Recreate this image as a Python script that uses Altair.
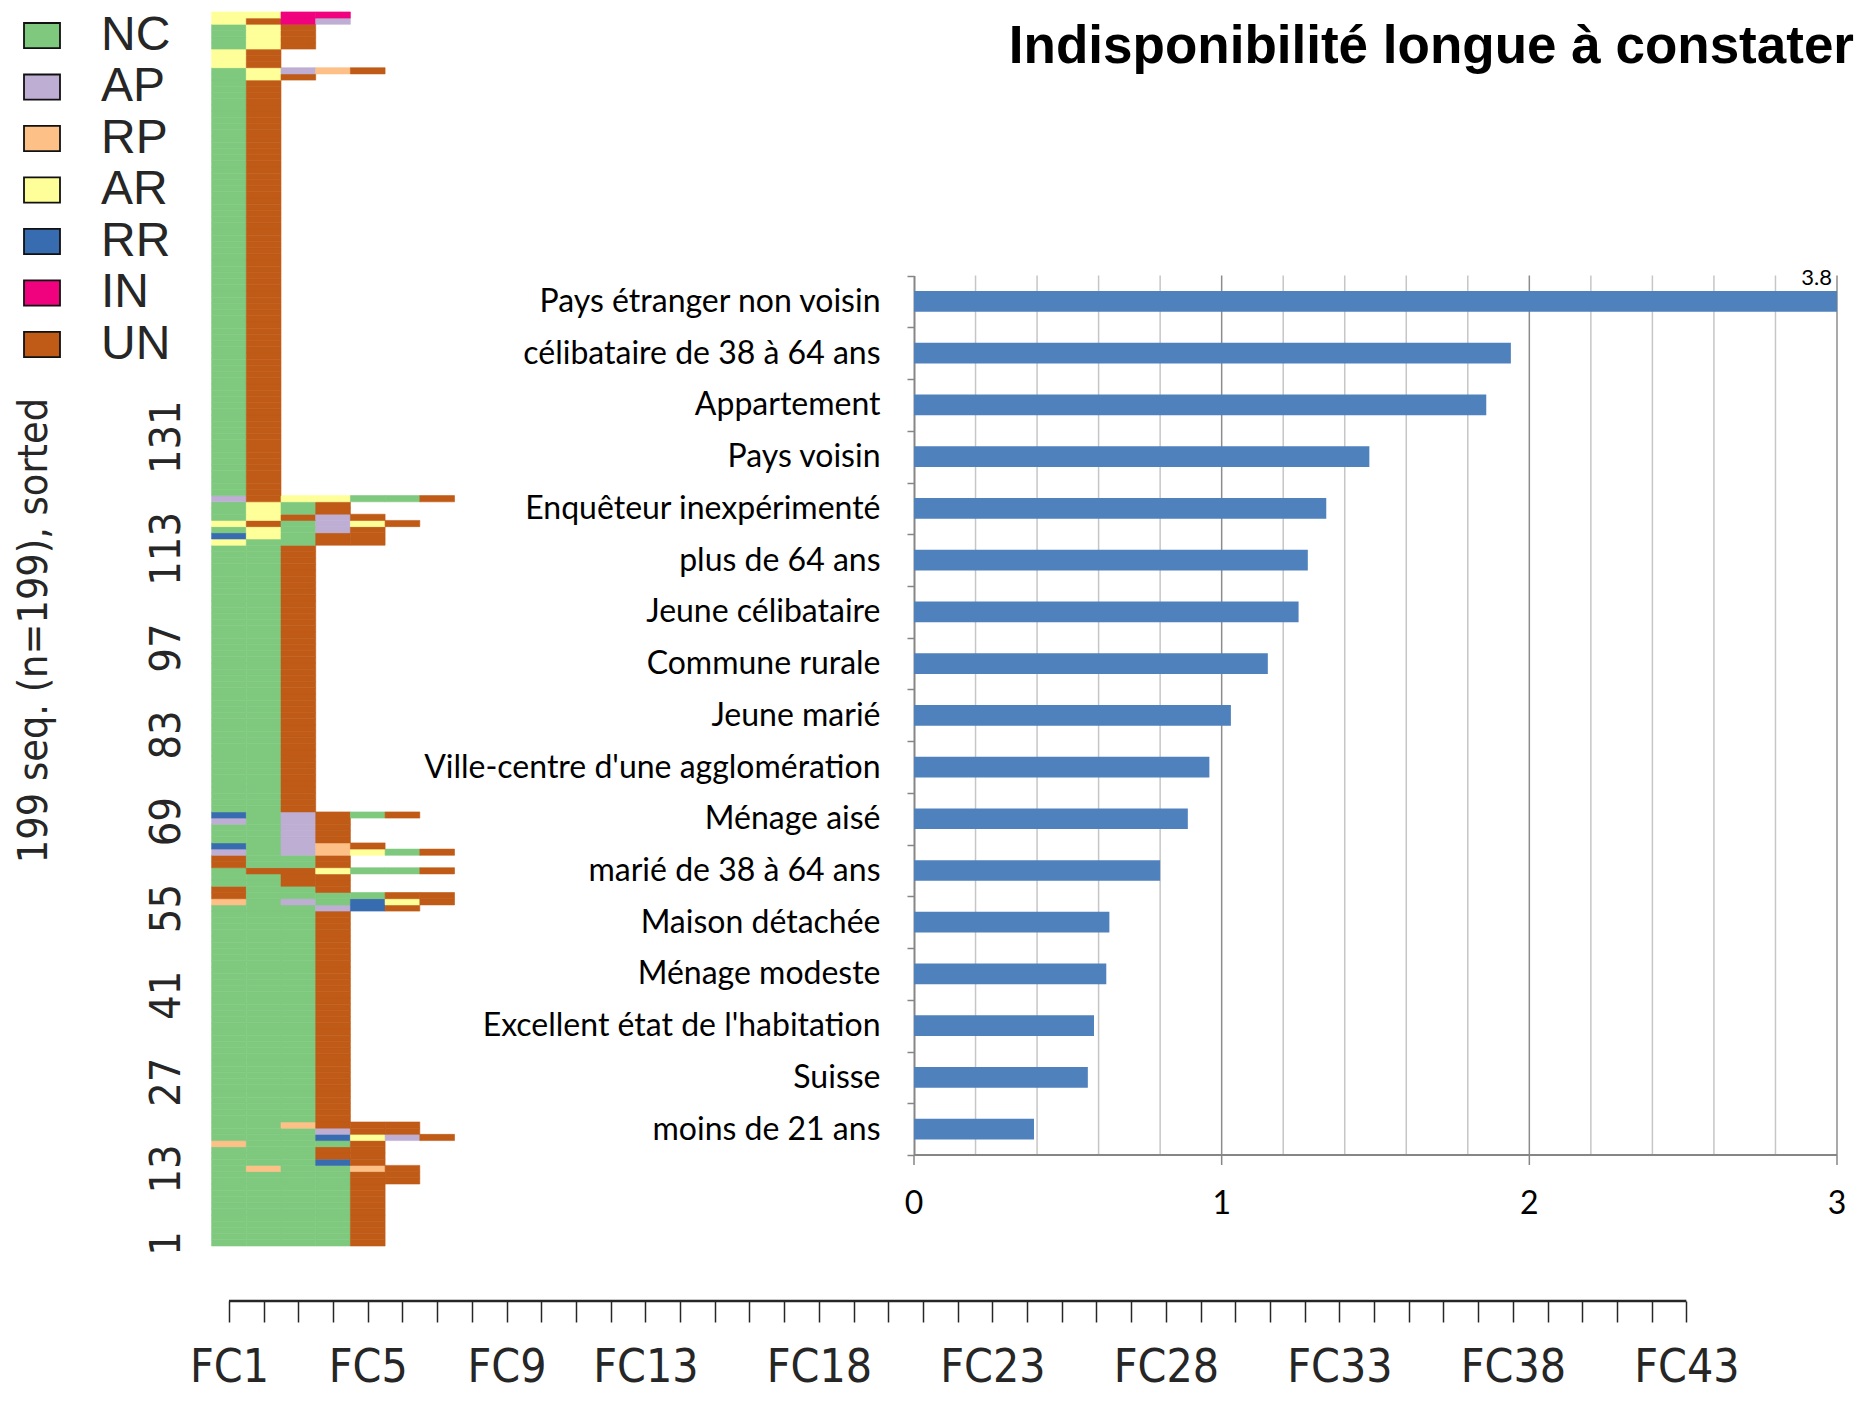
import altair as alt
import pandas as pd

# ---------------- data ----------------
STATES = ["NC", "AP", "RP", "AR", "RR", "IN", "UN"]
STATE_COLORS = ["#7FC97F", "#BEAED4", "#FDC086", "#FFFF99", "#386CB0", "#F0027F", "#BF5B17"]

# sequence patterns, from sequence 1 (bottom) upward, with the number of rows showing it
SEQ_PATTERNS = [
    "NC NC NC NC UN",
    "NC NC NC NC UN UN",
    "NC RP NC NC RP UN",
    "NC NC NC RR UN",
    "NC NC NC UN UN",
    "RP NC NC NC UN",
    "NC NC NC RR AR AP UN",
    "NC NC NC AP UN UN",
    "NC NC RP UN UN UN",
    "NC NC NC UN",
    "NC NC NC AP RR UN",
    "RP NC AP NC RR AR UN",
    "UN NC NC NC NC UN UN",
    "UN NC NC UN",
    "NC NC UN UN",
    "NC UN UN AR NC NC UN",
    "UN NC NC UN",
    "AP NC AP RP AR NC UN",
    "RR NC AP RP UN",
    "NC NC AP UN",
    "AP NC AP UN",
    "RR NC AP UN NC UN",
    "NC NC UN",
    "AR NC NC UN UN",
    "RR AR NC UN UN",
    "NC AR NC AP UN",
    "AR UN NC AP AR UN",
    "NC AR UN AP UN",
    "NC AR NC UN",
    "AP UN AR AR NC NC UN",
    "NC UN",
    "NC AR UN",
    "NC AR AP RP UN",
    "AR UN",
    "NC AR UN",
    "AR UN IN AP",
    "AR AR IN IN",
]
SEQ_COUNTS = [10, 2, 1, 1, 2, 1, 1, 1, 1, 34, 1, 1, 1, 1, 2, 1, 2, 1, 1, 3, 1, 1,
              43, 1, 1, 1, 1, 1, 2, 1, 67, 1, 1, 3, 4, 1, 1]

FC_LABELED = [1, 5, 9, 13, 18, 23, 28, 33, 38, 43]
SEQ_Y_LABELS = [1, 13, 27, 41, 55, 69, 83, 97, 113, 131]

CATEGORIES = [
    "Pays étranger non voisin",
    "célibataire de 38 à 64 ans",
    "Appartement",
    "Pays voisin",
    "Enquêteur inexpérimenté",
    "plus de 64 ans",
    "Jeune célibataire",
    "Commune rurale",
    "Jeune marié",
    "Ville-centre d'une agglomération",
    "Ménage aisé",
    "marié de 38 à 64 ans",
    "Maison détachée",
    "Ménage modeste",
    "Excellent état de l'habitation",
    "Suisse",
    "moins de 21 ans",
]
VALUES = [3.8, 1.94, 1.86, 1.48, 1.34, 1.28, 1.25, 1.15, 1.03, 0.96, 0.89, 0.80,
          0.635, 0.625, 0.585, 0.565, 0.39]
LABELLED_VALUE_CATS = ["Pays étranger non voisin"]
GRID_MINOR = [0.2, 0.4, 0.6, 0.8, 1.2, 1.4, 1.6, 1.8, 2.2, 2.4, 2.6, 2.8]
GRID_MAJOR = [1, 2, 3]
X_TICKS = [0, 1, 2, 3]
TITLE = "Indisponibilité longue à constater"

# ---------------- layout (pixels inside the plot area) ----------------
W, H = 1847, 1385
SEQ_X_RANGE = [203.6, 1695.7]
SEQ_Y_RANGE = [1238.0, 3.9]
SEQ_AXIS_Y = 1293
BAR_X_RANGE = [906, 1829]
BAR_Y_RANGE = [267.6, 1147]
LEGEND_Y_RANGE = [27.6, 336.5]
LEGEND_SYMBOL_X = 34
LEGEND_LABEL_X = 93

NARROW = "Liberation Sans Narrow, Arial Narrow, DejaVu Sans Condensed, sans-serif"
RTEXT = "#262626"
AXGRAY = "#868686"

# ---------------- tables ----------------
rows = []
seq_id = 0
for pat, cnt in zip(SEQ_PATTERNS, SEQ_COUNTS):
    states = pat.split()
    for _ in range(cnt):
        seq_id += 1
        for j, s in enumerate(states):
            rows.append({"seq": seq_id, "fc": j + 1, "state": s,
                         "x0": j + 0.5, "x1": j + 1.5,
                         "y0": seq_id - 0.5, "y1": seq_id + 0.5})
seq_df = pd.DataFrame(rows)
bar_df = pd.DataFrame({"cat": CATEGORIES, "value": VALUES})
lab_df = bar_df[bar_df["cat"].isin(LABELLED_VALUE_CATS)]
minor_df = pd.DataFrame({"g": GRID_MINOR})
major_df = pd.DataFrame({"g": GRID_MAJOR})
xt_df = pd.DataFrame({"t": X_TICKS})
leg_df = pd.DataFrame({"state": STATES})

# ---------------- sequence index plot ----------------
seq_x_scale = alt.Scale(domain=[0.5, 43.5], range=SEQ_X_RANGE, nice=False, zero=False)
seq_y_scale = alt.Scale(domain=[0.5, 199.5], range=SEQ_Y_RANGE, nice=False, zero=False)
col_scale = alt.Scale(domain=STATES, range=STATE_COLORS)

label_list = ",".join(str(v) for v in FC_LABELED)
seq_rect = alt.Chart(seq_df).mark_rect(strokeWidth=0.6).encode(
    x=alt.X("x0:Q", scale=seq_x_scale, axis=alt.Axis(
        orient="bottom", offset=SEQ_AXIS_Y - H, values=list(range(1, 44)),
        labelExpr=f"indexof([{label_list}], datum.value) >= 0 ? 'FC' + datum.value : ''",
        domain=False, grid=False, ticks=True, tickSize=21, tickColor=RTEXT, tickWidth=1.5,
        labelFont=NARROW, labelFontSize=46, labelColor=RTEXT, labelPadding=23,
        labelOverlap=False, labelFlush=False, title=None)),
    x2="x1:Q",
    y=alt.Y("y0:Q", scale=seq_y_scale, axis=alt.Axis(
        orient="left", offset=-171, values=SEQ_Y_LABELS, domain=False, ticks=False,
        tickSize=0, grid=False, labelAngle=270, labelAlign="center",
        labelBaseline="alphabetic", labelPadding=0, labelFont=NARROW, labelFontSize=43,
        labelColor=RTEXT, labelOverlap=False, labelFlush=False,
        title="199 seq. (n=199), sorted", titleFont=NARROW, titleFontSize=41,
        titleFontWeight="normal", titleColor=RTEXT, titleAngle=270, titleAlign="center",
        titleBaseline="alphabetic", titleX=-133, titleY=622)),
    y2="y1:Q",
    color=alt.Color("state:N", scale=col_scale, legend=None),
    stroke=alt.Stroke("state:N", scale=col_scale, legend=None),
)

seq_axis_line = alt.Chart(pd.DataFrame({"a": [1], "b": [43]})).mark_rule(
    color=RTEXT, strokeWidth=2.5).encode(
    x=alt.X("a:Q", scale=seq_x_scale), x2="b:Q", y=alt.value(SEQ_AXIS_Y))

seq_layer = alt.layer(seq_rect, seq_axis_line)

# ---------------- state legend (drawn through its own point scale) ----------------
leg_y_scale = alt.Scale(type="point", domain=STATES, range=LEGEND_Y_RANGE, padding=0)
leg_boxes = alt.Chart(leg_df).mark_point(
    shape="M-1,-0.7H1V0.7H-1Z", size=1296, filled=True, opacity=1, fillOpacity=1,
    stroke="#111111", strokeWidth=1.8).encode(
    x=alt.value(LEGEND_SYMBOL_X),
    y=alt.Y("state:N", scale=leg_y_scale, axis=None),
    fill=alt.Fill("state:N", scale=col_scale, legend=None))
leg_labels = alt.Chart(leg_df).mark_text(
    align="left", baseline="middle", font="Liberation Sans", fontSize=48,
    color=RTEXT).encode(
    x=alt.value(LEGEND_LABEL_X),
    y=alt.Y("state:N", scale=leg_y_scale, axis=None),
    text="state:N")
legend_layer = alt.layer(leg_boxes, leg_labels)

# ---------------- bar chart ----------------
bar_x_scale = alt.Scale(domain=[0, 3], range=BAR_X_RANGE, clamp=True, nice=False, zero=True)
bar_y_scale = alt.Scale(domain=CATEGORIES, range=BAR_Y_RANGE, paddingInner=0, paddingOuter=0)

minor_grid = alt.Chart(minor_df).mark_rule(color="#C6C6C6", strokeWidth=1.5).encode(
    x=alt.X("g:Q", scale=bar_x_scale, axis=None),
    y=alt.value(BAR_Y_RANGE[0]), y2=alt.value(BAR_Y_RANGE[1]))
major_grid = alt.Chart(major_df).mark_rule(color="#8C8C8C", strokeWidth=1.5).encode(
    x=alt.X("g:Q", scale=bar_x_scale, axis=None),
    y=alt.value(BAR_Y_RANGE[0]), y2=alt.value(BAR_Y_RANGE[1]))

bars = alt.Chart(bar_df).mark_bar(
    height=alt.RelativeBandSize(band=0.4), color="#4F81BD").encode(
    x=alt.X("value:Q", scale=bar_x_scale, axis=None),
    y=alt.Y("cat:N", scale=bar_y_scale, sort=None, axis=alt.Axis(
        orient="left", offset=-BAR_X_RANGE[0], domain=True, domainColor=AXGRAY,
        domainWidth=2, ticks=True, tickBand="extent", tickSize=7, tickColor=AXGRAY,
        tickWidth=1.5, grid=False, labelFont="Lato", labelFontSize=32,
        labelColor="#000", labelPadding=27, labelLimit=0, title=None)),
)

# value axis of the bar chart (line, ticks, labels) drawn through its scale
x_axis_line = alt.Chart(pd.DataFrame({"a": [0], "b": [3]})).mark_rule(
    color=AXGRAY, strokeWidth=2).encode(
    x=alt.X("a:Q", scale=bar_x_scale, axis=None), x2="b:Q",
    y=alt.value(BAR_Y_RANGE[1]))
x_ticks = alt.Chart(xt_df).mark_rule(color=AXGRAY, strokeWidth=1.5).encode(
    x=alt.X("t:Q", scale=bar_x_scale, axis=None),
    y=alt.value(BAR_Y_RANGE[1]), y2=alt.value(BAR_Y_RANGE[1] + 10))
x_labels = alt.Chart(xt_df).mark_text(
    baseline="alphabetic", align="center", font="Lato", fontSize=32, color="#000").encode(
    x=alt.X("t:Q", scale=bar_x_scale, axis=None),
    y=alt.value(BAR_Y_RANGE[1] + 59),
    text=alt.Text("t:Q", format="d"))

value_text = alt.Chart(lab_df).mark_text(
    align="right", baseline="alphabetic", dx=-5, dy=-16, font="Lato",
    fontSize=22, color="#000").encode(
    x=alt.X("value:Q", scale=bar_x_scale, axis=None),
    y=alt.Y("cat:N", scale=bar_y_scale, sort=None),
    text=alt.Text("value:Q", format=".1f"))

bar_layer = alt.layer(minor_grid, major_grid, bars, x_axis_line, x_ticks, x_labels,
                      value_text)

title_text = alt.Chart(pd.DataFrame({"t": [TITLE]})).mark_text(
    align="right", baseline="alphabetic", font="Liberation Sans", fontSize=53,
    fontWeight="bold", color="#000").encode(
    text="t:N", x=alt.value(W - 1), y=alt.value(55))

chart = alt.layer(seq_layer, legend_layer, bar_layer, title_text).resolve_scale(
    x="independent", y="independent"
).properties(
    width=W, height=H, padding=0,
    autosize=alt.AutoSizeParams(type="none"),
).configure_view(stroke=None)

chart.save("out.html", embed_options={"renderer": "svg", "actions": False})
